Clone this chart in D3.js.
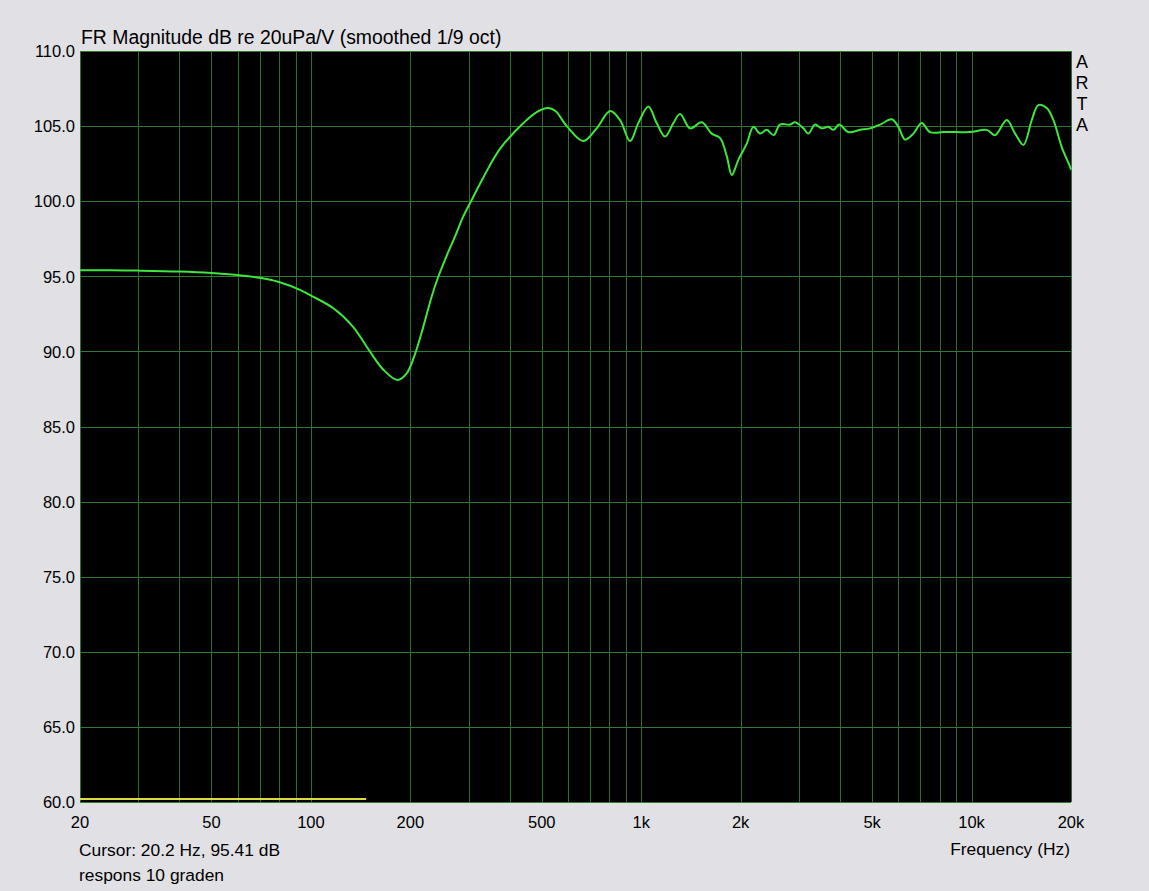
<!DOCTYPE html>
<html><head><meta charset="utf-8">
<script src="https://cdn.jsdelivr.net/npm/d3@7"></script>
<style>
html,body{margin:0;padding:0;background:#e1e1e5;}
svg{display:block;font-family:Arial,"Liberation Sans",sans-serif;}
</style></head>
<body>
<svg id="chart" width="1149" height="891"></svg>
<script>
const freqs = [20,25,30,40,50,60,70,80,93,100,117,134,151,166,183,195,207,219,232,243,258,273,289,307,333,374,440,480,523,550,595,668,733,805,863,925,980,1051,1114,1181,1251,1311,1406,1525,1634,1733,1815,1880,1968,2088,2186,2289,2399,2517,2631,2823,2921,3097,3207,3358,3523,3687,3821,3972,4239,4597,4930,5286,5734,6004,6290,6668,7064,7487,8221,9021,9902,11117,11783,12780,13549,14354,15214,15929,16886,17692,18750,19860,20000];
const magnitude = [95.41,95.4,95.38,95.32,95.22,95.08,94.9,94.62,94.08,93.72,92.87,91.65,89.98,88.76,88.1,88.54,89.87,91.65,93.64,94.97,96.4,97.64,98.97,100.1,101.6,103.5,105.2,105.9,106.2,106.0,105.0,104.0,104.85,106.0,105.4,104.0,105.2,106.3,105.2,104.3,105.2,105.8,104.85,105.25,104.5,104.2,103.0,101.75,102.75,103.85,104.95,104.5,104.75,104.4,105.1,105.1,105.25,104.85,104.5,105.1,104.85,104.95,104.75,105.1,104.6,104.75,104.85,105.1,105.45,104.95,104.1,104.5,105.2,104.6,104.6,104.6,104.6,104.75,104.4,105.4,104.5,103.75,105.4,106.4,106.2,105.4,103.6,102.3,102.1];
const markerFreqs = [20,147];
const markerValues = [60.2,60.2];
const xTickValues = [20,50,100,200,500,1000,2000,5000,10000,20000];
const xTickLabels = ["20","50","100","200","500","1k","2k","5k","10k","20k"];
const yTickValues = [60,65,70,75,80,85,90,95,100,105,110];
const xGridValues = [20,30,40,50,60,70,80,90,100,200,300,400,500,600,700,800,900,1000,2000,3000,4000,5000,6000,7000,8000,9000,10000,20000];
const titleText = "FR Magnitude dB re 20uPa/V (smoothed 1/9 oct)";
const cursorText = "Cursor: 20.2 Hz, 95.41 dB";
const noteText = "respons 10 graden";
const xAxisTitle = "Frequency (Hz)";
const brand = ["A","R","T","A"];

const svg = d3.select("#chart");
const L = 80, T = 51, W = 991, H = 751;
const x = d3.scaleLog().domain([20,20000]).range([L, L+W]);
const y = d3.scaleLinear().domain([60,110]).range([T+H, T]);

svg.append("rect").attr("x",0).attr("y",0).attr("width",1149).attr("height",891).attr("fill","#e1e1e5");
svg.append("rect").attr("x",L).attr("y",T).attr("width",W).attr("height",H).attr("fill","#000");

const gridColor = "#2c6e2c";
svg.append("g").selectAll("line").data(xGridValues).join("line")
  .attr("x1",d=>Math.round(x(d))+0.5).attr("x2",d=>Math.round(x(d))+0.5)
  .attr("y1",T).attr("y2",T+H).attr("stroke",gridColor).attr("stroke-width",1);
svg.append("g").selectAll("line").data(yTickValues).join("line")
  .attr("x1",L).attr("x2",L+W)
  .attr("y1",d=>Math.round(y(d))+0.5).attr("y2",d=>Math.round(y(d))+0.5)
  .attr("stroke","#317831").attr("stroke-width",1);

// marker (yellow)
const mk = markerFreqs.map((f,i)=>[f,markerValues[i]]);
svg.append("path").datum(mk)
  .attr("d", d3.line().x(d=>x(d[0])).y(d=>y(d[1])))
  .attr("stroke","#dcdc3c").attr("stroke-width",2).attr("fill","none");

// curve
const pts = freqs.map((f,i)=>[f,magnitude[i]]);
svg.append("path").datum(pts)
  .attr("d", d3.line().x(d=>x(d[0])).y(d=>y(d[1])).curve(d3.curveCatmullRom.alpha(0.5)))
  .attr("stroke","#3ee63e").attr("stroke-width",2).attr("fill","none");

// y labels
svg.append("g").selectAll("text").data(yTickValues).join("text")
  .attr("x",L-5).attr("y",d=>y(d)).attr("dy","0.38em")
  .attr("text-anchor","end").attr("font-size",16.5).attr("fill","#000")
  .text(d=>d.toFixed(1));
// x labels
svg.append("g").selectAll("text").data(xTickValues).join("text")
  .attr("x",d=>x(d)).attr("y",828)
  .attr("text-anchor","middle").attr("font-size",16.5).attr("fill","#000")
  .text((d,i)=>xTickLabels[i]);

svg.append("text").attr("x",L+1).attr("y",44).attr("font-size",19.4).attr("fill","#000").text(titleText);
svg.append("text").attr("x",L-1).attr("y",856).attr("font-size",17.4).attr("fill","#000").text(cursorText);
svg.append("text").attr("x",L-1).attr("y",881).attr("font-size",17.4).attr("fill","#000").text(noteText);
svg.append("text").attr("x",1070).attr("y",855).attr("text-anchor","end").attr("font-size",17.4).attr("fill","#000").text(xAxisTitle);
svg.append("g").selectAll("text").data(brand).join("text")
  .attr("x",1082).attr("y",(d,i)=>68+i*21).attr("text-anchor","middle")
  .attr("font-size",18).attr("fill","#000").text(d=>d);
</script>
</body></html>
